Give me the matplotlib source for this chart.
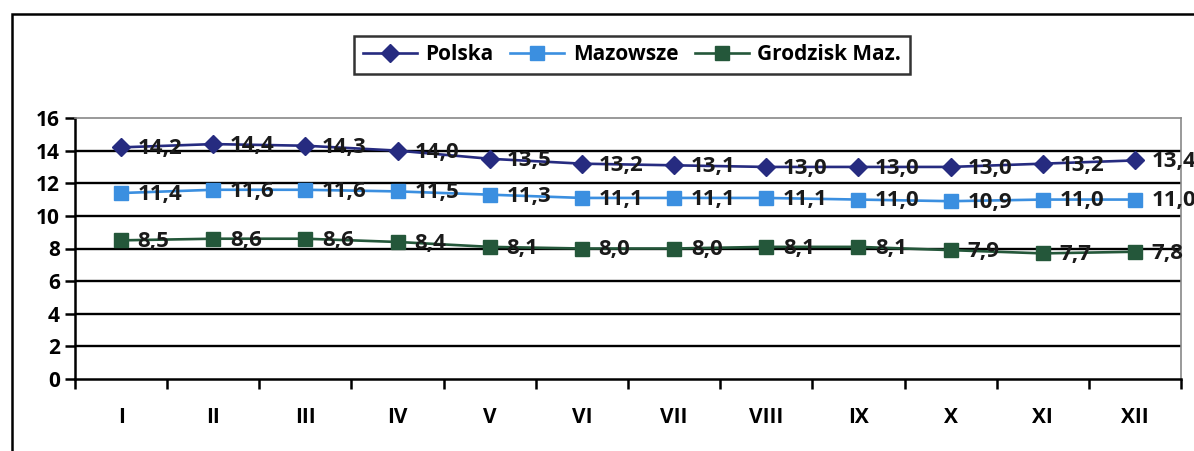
import matplotlib.pyplot as plt
from matplotlib.patches import Rectangle
from matplotlib.ticker import FixedLocator, NullFormatter

plt.rcParams['font.family'] = ['Open Sans', 'DejaVu Sans']
plt.rcParams['font.weight'] = 'bold'

months = ['I', 'II', 'III', 'IV', 'V', 'VI', 'VII', 'VIII', 'IX', 'X', 'XI', 'XII']
polska = [14.2, 14.4, 14.3, 14.0, 13.5, 13.2, 13.1, 13.0, 13.0, 13.0, 13.2, 13.4]
mazowsze = [11.4, 11.6, 11.6, 11.5, 11.3, 11.1, 11.1, 11.1, 11.0, 10.9, 11.0, 11.0]
grodzisk = [8.5, 8.6, 8.6, 8.4, 8.1, 8.0, 8.0, 8.1, 8.1, 7.9, 7.7, 7.8]

series = [
    ('Polska', polska, '#262b80', 'D', 9),
    ('Mazowsze', mazowsze, '#3b8fe0', 's', 10),
    ('Grodzisk Maz.', grodzisk, '#24573a', 's', 10),
]

fig = plt.figure(figsize=(11.94, 4.51), dpi=100)
ax = fig.add_axes([75 / 1194, 1 - 379 / 451, 1106 / 1194, 261 / 451])

# outer chart frame (runs off the right and bottom of the scan)
fig.patches.append(Rectangle((12 / 1194, -0.2), 1.2, 1.2 - 14 / 451,
                             transform=fig.transFigure, fill=False,
                             edgecolor='black', linewidth=1.8, clip_on=False))

x = list(range(len(months)))
for name, vals, col, mk, ms in series:
    ax.plot(x, vals, color=col, marker=mk, markersize=ms, linewidth=1.9,
            label=name, zorder=3)
    for xi, v in zip(x, vals):
        ax.annotate(f'{v:.1f}'.replace('.', ','), (xi, v), xytext=(12, -1),
                    textcoords='offset points', ha='left', va='center',
                    fontsize=16, fontweight='bold', color='#1a1a1a',
                    zorder=4, annotation_clip=False)

ax.set_xlim(-0.5, 11.5)
ax.set_ylim(0, 16)
ax.set_yticks(range(0, 17, 2))
for y in range(2, 16, 2):
    ax.axhline(y, color='black', linewidth=1.7, zorder=1)

ax.set_xticks(x)
ax.set_xticklabels(months, fontsize=15, fontweight='bold')
ax.xaxis.set_minor_locator(FixedLocator([i - 0.5 for i in range(13)]))
ax.xaxis.set_minor_formatter(NullFormatter())
ax.tick_params(axis='x', which='major', length=0, pad=20)
ax.tick_params(axis='x', which='minor', length=7, width=1.8, direction='out')
ax.tick_params(axis='y', length=7, width=1.8, direction='out', labelsize=15, pad=4)
for lab in ax.get_yticklabels():
    lab.set_fontweight('bold')

ax.spines['left'].set_linewidth(1.8)
ax.spines['bottom'].set_linewidth(1.8)
ax.spines['top'].set_color('#888888')
ax.spines['right'].set_color('#888888')
ax.spines['top'].set_linewidth(1.2)
ax.spines['right'].set_linewidth(1.2)

leg = fig.legend(loc='center', bbox_to_anchor=(632 / 1194, 1 - 55 / 451), ncol=3,
                 frameon=True, fancybox=False, edgecolor='black', fontsize=15,
                 handlelength=2.6, columnspacing=0.8, handletextpad=0.4,
                 borderpad=0.4)
leg.get_frame().set_linewidth(1.8)
for t in leg.get_texts():
    t.set_fontweight('bold')

fig.savefig('out.png', dpi=100)
